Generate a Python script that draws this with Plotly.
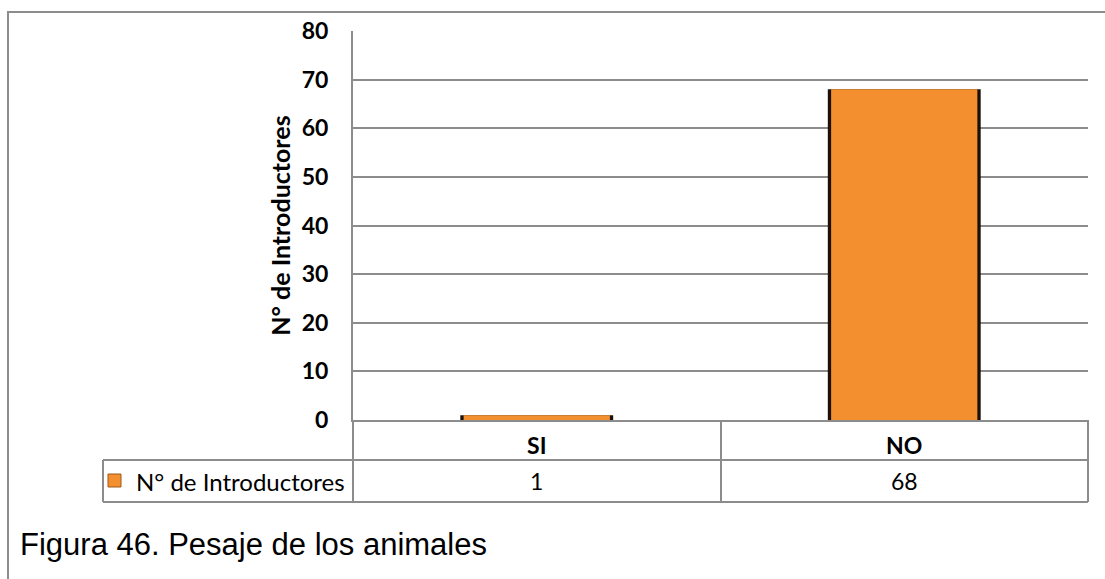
import plotly.graph_objects as go

# Chart data
categories = ["SI", "NO"]
values = [1, 68]
series_name = "N° de Introductores"
y_ticks = [0, 10, 20, 30, 40, 50, 60, 70, 80]
caption = "Figura 46. Pesaje de los animales"

W, H = 1105, 579
PX_L, PX_R, PX_T, PX_B = 353, 1088, 31, 420   # plot area in pixels

GRID = "#8c8c8c"
ORANGE = "#F48F2F"
EDGE = "#1c1008"
FONT = "Lato"


def px(x):
    return (x - PX_L) / (PX_R - PX_L)


def py(y):
    return (PX_B - y) / (PX_B - PX_T)


fig = go.Figure()

# dark back bar gives the shaded side edges, orange bar sits on top
fig.add_trace(go.Bar(
    x=categories, y=values, width=0.416,
    marker=dict(color=EDGE, line=dict(width=0)),
    showlegend=False, hoverinfo="skip",
))
fig.add_trace(go.Bar(
    x=categories, y=values, width=0.398, name=series_name,
    marker=dict(color=ORANGE, line=dict(width=0)),
    showlegend=False,
))

shapes = []
line = dict(color=GRID, width=2)
# outer chart frame
shapes.append(dict(type="rect", xref="paper", yref="paper",
                   x0=px(8), x1=px(1112), y0=py(590), y1=py(12),
                   line=line, layer="below"))
# data table grid
for yy in (460, 502):
    shapes.append(dict(type="line", xref="paper", yref="paper",
                       x0=px(103), x1=px(PX_R), y0=py(yy), y1=py(yy), line=line))
shapes.append(dict(type="line", xref="paper", yref="paper",
                   x0=px(103), x1=px(103), y0=py(460), y1=py(502), line=line))
shapes.append(dict(type="line", xref="paper", yref="paper",
                   x0=px(PX_L), x1=px(PX_L), y0=py(PX_B), y1=py(502), line=line))
for xx in (721, PX_R):
    shapes.append(dict(type="line", xref="paper", yref="paper",
                       x0=px(xx), x1=px(xx), y0=py(PX_B), y1=py(502), line=line))
# legend key in the table
shapes.append(dict(type="rect", xref="paper", yref="paper",
                   x0=px(108), x1=px(121), y0=py(487), y1=py(474),
                   fillcolor=ORANGE, line=dict(color="#9a5a1a", width=1)))

annotations = []
annotations.append(dict(xref="paper", yref="paper", x=px(134), y=py(481),
                        xanchor="left", yanchor="middle", showarrow=False,
                        text=series_name,
                        font=dict(family=FONT, size=24, color="black")))
for c, v in zip(categories, values):
    annotations.append(dict(xref="x", yref="paper", x=c, y=py(481),
                            xanchor="center", yanchor="middle", showarrow=False,
                            text=str(v),
                            font=dict(family=FONT, size=23, color="black")))
annotations.append(dict(xref="paper", yref="paper", x=px(18), y=py(544),
                        xanchor="left", yanchor="middle", showarrow=False,
                        text=caption,
                        font=dict(family="Liberation Sans", size=31, color="black")))

fig.update_layout(
    width=W, height=H,
    margin=dict(l=PX_L, r=W - PX_R, t=PX_T, b=H - PX_B, autoexpand=False),
    paper_bgcolor="white", plot_bgcolor="white",
    barmode="overlay",
    shapes=shapes, annotations=annotations,
    xaxis=dict(
        type="category", categoryorder="array", categoryarray=categories,
        range=[-0.5, 1.5], showgrid=False, showline=True, linecolor=GRID,
        linewidth=2, ticks="", ticklabelstandoff=4,
        tickfont=dict(family=FONT, size=23, color="black", weight="bold"),
    ),
    yaxis=dict(
        range=[0, 80], tickvals=y_ticks, showgrid=True, gridcolor=GRID,
        gridwidth=2, showline=True, linecolor=GRID, linewidth=2,
        zeroline=False, ticks="", ticklabelstandoff=18,
        tickfont=dict(family=FONT, size=23, color="black", weight="bold"),
        title=dict(text=series_name, standoff=4,
                   font=dict(family=FONT, size=25, color="black", weight="bold")),
    ),
)

fig.write_html("out.html")
